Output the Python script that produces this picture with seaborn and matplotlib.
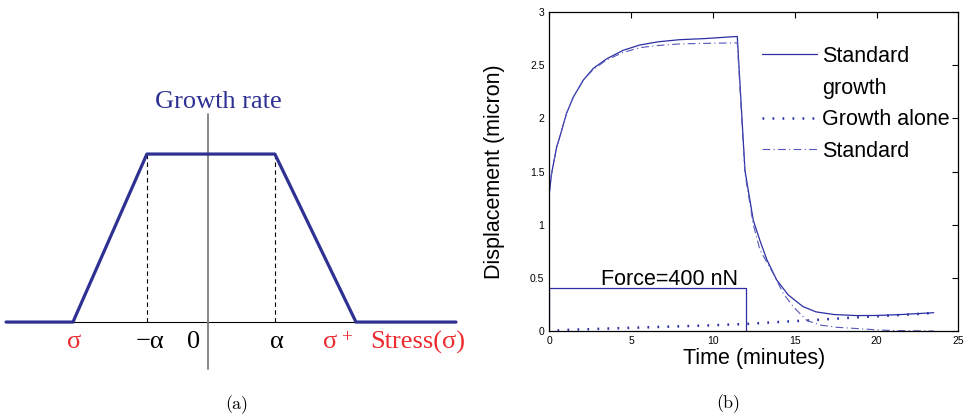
import matplotlib
matplotlib.use("Agg")
import matplotlib.pyplot as plt
from matplotlib.lines import Line2D
import seaborn as sns

# ---------------- data ----------------
# (a) piecewise growth-rate law versus stress (stress in units of alpha)
stress_pts = [-3.15, -2.105, -0.95, 1.05, 2.317, 3.88]
growth_pts = [0, 0, 1, 1, 0, 0]
alpha_lo, alpha_hi = -0.95, 1.05

# (b) displacement under a force pulse
time_growth = [0, 0.14, 0.45, 0.65, 1.06, 1.47, 2.08, 2.69, 3.51, 4.52, 5.54,
               6.66, 8.0, 9.5, 11.49, 11.96, 12.47, 12.9, 13.3, 13.9, 14.6,
               15.5, 16.3, 17.4, 18.8, 20.0, 21.4, 23.5]
disp_growth = [1.30, 1.48, 1.73, 1.83, 2.05, 2.20, 2.36, 2.47, 2.56, 2.64, 2.69,
               2.72, 2.74, 2.75, 2.77, 1.51, 1.04, 0.84, 0.67, 0.48, 0.34,
               0.23, 0.18, 0.155, 0.145, 0.146, 0.154, 0.172]

time_alone = [0.5, 1.0, 3.0, 5.0, 7.5, 10.0, 12.0, 13.5, 14.9, 16.3, 18.4,
              20.0, 22.0, 23.5]
disp_alone = [0.005, 0.01, 0.02, 0.03, 0.042, 0.054, 0.066, 0.08, 0.092, 0.104,
              0.125, 0.138, 0.155, 0.17]

time_standard = [0, 0.14, 0.45, 0.65, 1.06, 1.47, 2.08, 2.69, 3.51, 4.52, 5.54,
                 6.66, 8.0, 9.5, 11.49, 11.96, 12.47, 12.88, 13.69, 14.3, 14.91,
                 15.73, 16.55, 17.57, 18.6, 19.8, 21.0, 23.5]
disp_standard = [1.30, 1.48, 1.73, 1.83, 2.05, 2.20, 2.36, 2.46, 2.55, 2.62, 2.665,
                 2.685, 2.70, 2.705, 2.71, 1.48, 1.0, 0.76, 0.54, 0.354, 0.229,
                 0.10, 0.056, 0.035, 0.025, 0.013, 0.004, 0.0]

force_time = [0, 0, 12, 12]
force_level = [0, 0.4, 0.4, 0]
force_label = "Force=400 nN"

legend_labels = ["Standard", "growth", "Growth alone", "Standard"]

# ---------------- style ----------------
sns.set_style("white")
plt.rcParams["font.family"] = ["Liberation Sans", "DejaVu Sans"]
plt.rcParams["text.color"] = "black"
plt.rcParams["axes.labelcolor"] = "black"
plt.rcParams["xtick.color"] = "black"
plt.rcParams["ytick.color"] = "black"

NAVY = "#2e3192"
BLUE = "#2b2fa3"
LIGHT = "#5458b8"
RED = "#ec2a2f"
SERIF = ["Liberation Serif", "DejaVu Serif"]

fig = plt.figure(figsize=(9.68, 4.2), dpi=100)

# ---------------- (a) ----------------
ax1 = fig.add_axes([0, 0, 0.5, 1])
ax1.set_xlim(-3.245, 4.3175)
ax1.set_ylim(-0.583, 1.917)
ax1.axis("off")

ax1.plot([stress_pts[0], stress_pts[-1]], [0, 0], color="black", lw=0.8, zorder=1)
ax1.plot([0, 0], [-0.28, 1.238], color="#7f7f7f", lw=1.3, zorder=1)
for a in (alpha_lo, alpha_hi):
    ax1.plot([a, a], [0, 1], color="black", lw=0.8, ls=(0, (4, 3)), zorder=1)
sns.lineplot(x=stress_pts, y=growth_pts, ax=ax1, color=NAVY, lw=2.3,
             sort=False, estimator=None, zorder=3)

ax1.text(0.166, 1.276, "Growth rate", color=NAVY, fontsize=19, family=SERIF,
         ha="center", va="baseline")
base = -0.157
ax1.text(-2.089, base, "σ", color=RED, fontsize=19, family=SERIF, ha="center", va="baseline")
ax1.text(-0.902, base, "−α", color="black", fontsize=19, family=SERIF, ha="center", va="baseline")
ax1.text(-0.214, base, "0", color="black", fontsize=19, family=SERIF, ha="center", va="baseline")
ax1.text(1.083, base, "α", color="black", fontsize=19, family=SERIF, ha="center", va="baseline")
ax1.text(1.911, base, "σ", color=RED, fontsize=19, family=SERIF, ha="center", va="baseline")
ax1.text(2.17, -0.095, "+", color=RED, fontsize=14, family=SERIF, ha="center", va="center")
ax1.text(2.536, base, "Stress(σ)", color=RED, fontsize=19, family=SERIF, ha="left", va="baseline")

# ---------------- (b) ----------------
ax2 = fig.add_axes([549.3 / 968, 1 - 331 / 420, 409 / 968, 319 / 420])
sns.lineplot(x=time_growth, y=disp_growth, ax=ax2, color=BLUE, lw=0.9,
             sort=False, estimator=None)
sns.lineplot(x=time_alone, y=disp_alone, ax=ax2, color=BLUE, lw=1.8,
             sort=False, estimator=None, linestyle=(0, (0.7, 3.3)))
sns.lineplot(x=time_standard, y=disp_standard, ax=ax2, color=LIGHT, lw=0.8,
             sort=False, estimator=None, linestyle=(0, (7, 3, 1, 3)))
sns.lineplot(x=force_time, y=force_level, ax=ax2, color=BLUE, lw=0.9,
             sort=False, estimator=None)
ax2.text(7.33, 0.433, force_label, fontsize=15.5, ha="center", va="baseline")

ax2.set_xlim(0, 25)
ax2.set_ylim(0, 3)
ax2.set_xticks([0, 5, 10, 15, 20, 25])
ax2.set_yticks([0, 0.5, 1, 1.5, 2, 2.5, 3])
ax2.set_yticklabels(["0", "0.5", "1", "1.5", "2", "2.5", "3"])
ax2.tick_params(direction="in", top=True, right=True, length=4, width=0.8,
                labelsize=7.5, colors="black", pad=3.5)
for sp in ax2.spines.values():
    sp.set_color("black")
    sp.set_linewidth(0.9)
ax2.set_xlabel("Time (minutes)", fontsize=15.5)
ax2.set_ylabel("Displacement (micron)", fontsize=15.5)
ax2.xaxis.set_label_coords(0.5, -0.054)
ax2.yaxis.set_label_coords(-0.108, 0.5)

handles = [
    Line2D([], [], color=BLUE, lw=0.9),
    Line2D([], [], linestyle="none"),
    Line2D([], [], color=BLUE, lw=1.8, linestyle=(0, (0.7, 3.3))),
    Line2D([], [], color=LIGHT, lw=0.8, linestyle=(0, (7, 3, 1, 3))),
]
fig.legend(handles, legend_labels, loc="upper left",
           bbox_to_anchor=(761.7 / 968, 1 - 46 / 420), bbox_transform=fig.transFigure,
           frameon=False, fontsize=15.5, handlelength=2.56, handletextpad=0.23,
           labelspacing=0.49, borderpad=0, borderaxespad=0)

# captions
fig.text(237 / 968, 1 - 405 / 420, "(a)", fontsize=13, family=["cmr10", "DejaVu Serif"],
         ha="center", va="center")
fig.text(728 / 968, 1 - 404 / 420, "(b)", fontsize=13, family=["cmr10", "DejaVu Serif"],
         ha="center", va="center")

fig.savefig("out.png", dpi=100)
